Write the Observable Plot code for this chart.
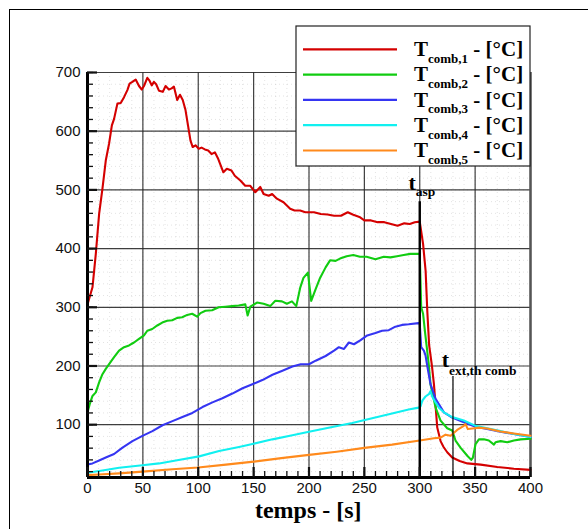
<!DOCTYPE html>
<html><head><meta charset="utf-8">
<script src="https://cdn.jsdelivr.net/npm/d3@7"></script>
<script src="https://cdn.jsdelivr.net/npm/@observablehq/plot@0.6"></script>
<style>
html,body{margin:0;padding:0;background:#fff;overflow:hidden;}
#wrap{position:relative;width:588px;height:529px;overflow:hidden;}
#frame{position:absolute;left:9px;top:9px;width:640px;height:640px;border:1.5px solid #000;box-sizing:border-box;}
#chart{position:absolute;left:0;top:0;}
</style></head><body><div id="wrap"><div id="frame"></div><div id="chart"></div></div>
<script>
// ---- data ----
const seriesSubs = ["comb,1", "comb,2", "comb,3", "comb,4", "comb,5"];
const seriesColors = ["#d40000", "#11cc11", "#3535f2", "#11f0f0", "#ff8a1c"];

const redX = [0,2,4.5,7.5,10.5,13.5,16.5,19.5,22,24,27,30,33,36,38,40.5,43.5,46.5,49,51,54,56,58,60,62,64.5,68,70.5,73.5,76,78,81,83.5,86,88.5,91,93,95,97.5,100.5,103,106,109,112,115,118,122.7,125.8,130,133,138,142.4,147,151.5,156,159,163.6,166.7,171,177,183,187,192,196.7,204.5,210.6,216.7,222.7,228.8,235,239.4,245.5,250,256,262,268,274,280,286,291,295.5,300,303,305.3,306.8,308.5,311,312.8,315.8,318.8,321.5,324.8,329.3,336,343,355,370,385,400];
const redY = [305,318,334,391,459,502,550,579,610,621,647,648,658,670,681,684,688,677,671,677,691,686,678,684,680,669,667,677,671,673,676,653,662,653,636,607,584,573,576,570,572,569,567,561,564,553,530,536,533,524,516,507,507,496,505,493,490,493,485,479,468,465,465,462,462,459,458,456,456,462,458,454,448,448,445,445,442,439,443,442,445,446,408,362,294,235,200,169,95,72,62,53,44,38,34,32,28,25,23];

const greenX = [0,2,4.5,7.5,10.5,13.5,16.5,19.5,24,28.5,33,37.5,42,46.5,51,54,58.5,63,67.5,72,76.5,81,85.5,90,94.5,99,102,106.5,112.5,118.5,124.5,130.5,136.5,142.5,144.6,147,153,159,165,169.6,175.6,180,184.6,188.5,192,195,199,202,206,210,215,219,224,228,234,240,246,252,260,267.5,273.5,279.5,285.5,291.5,299,300,301.3,303,305,308,309.7,314.3,318.8,324.8,329.3,332.3,336.8,342.9,346.5,348,350.4,353.4,357.9,362.4,367,368.4,373,379,385,391,400];
const greenY = [121,135,149,155,172,186,195,203,215,226,232,235,240,246,252,260,263,269,274,277,278,282,283,287,289,284,290,294,295,300,301,302,303,305,286,301,308,306,302,311,310,306,310,302,333,350,359,311,331,350,368,380,379,383,387,389,386,386,382,386,385,387,389,391,391,392,300,289,254,205,169,129,107,94,90,73,61,47,40,44,67,75,75,73,66,70,72,70,73,75,76];

const blueX = [0,4.5,10.5,16.5,24,31.6,40.6,49.6,58.6,67.7,76.7,85.7,94.7,103.8,112.8,121.8,130.8,140,148.9,157.9,167,176,185,192.5,200,206,215,222.6,227,231.6,236,240.6,246.6,252.6,260,266,272,278,284,290,299,300,301.3,303.7,305.2,306.8,309.7,314.3,321.8,329.3,339.8,350.4,360.9,372.9,385,400];
const blueY = [32,34,39,44,50,61,72,81,89,99,106,113,120,130,138,145,153,162,169,176,185,192,199,203,203,209,217,226,232,229,240,237,244,252,256,260,261,267,270,271,273,272,232,226,218,200,169,144,121,112,104,96.5,92.5,88,84,79];

const cyanX = [0,13.5,28.6,49.6,64.7,79.7,100.8,118.8,136.8,148.9,167,185,200,221,239,257,275,290,299,300.7,302.3,305.2,308.2,309.7,311.2,314.3,317.3,321.8,329.3,339.8,350.4,360.9,372.9,385,400];
const cyanY = [18,22,26.5,31,34,39,46,55,62,67,75,82,88,96,103,111,119,126,129,131,141,148,152,157,148,138,129,121,113,107,98,94,89,84,79];

const orangeX = [0,10.5,28.6,49.6,76.7,100,125,150,175,200,225,250,275,300,312.8,318.8,323.3,327.8,333.8,339.8,341.3,343.4,349.6,353.4,360.9,372.9,385,400];
const orangeY = [14,15,17,20,24,27,32,37,43,48.5,54,60.5,66,73,77,78,83,81,91,98,101,92.5,94,95,93.6,88.4,85,81];

const xTicks = [0,50,100,150,200,250,300,350,400];
const yTicks = [100,200,300,400,500,600,700];
const xMinor = d3.range(0, 401, 10);
const yMinor = d3.range(20, 701, 20);

const xLabel = "temps - [s]";
const markers = [{x: 300, top: 480}, {x: 330, top: 182}];
const annoMain = [{x: 300, y: 500, t: "t"}, {x: 330, y: 197.6, t: "t"}];
const annoSub = [{x: 300, y: 489, t: "asp"}, {x: 330, y: 185, t: "ext,th comb"}];

const allX = [redX, greenX, blueX, cyanX, orangeX];
const allY = [redY, greenY, blueY, cyanY, orangeY];
const series = allX.map((xs, i) => xs.map((x, j) => ({x, y: allY[i][j]})));

const serif = "'Liberation Serif', 'Times New Roman', serif";

const plot = Plot.plot({
  width: 588, height: 529,
  marginLeft: 87, marginRight: 58, marginTop: 72, marginBottom: 52,
  x: {domain: [0, 400]},
  y: {domain: [10, 700]},
  style: {fontFamily: "'Liberation Sans', Arial, sans-serif", fontSize: "15px", color: "#111", background: "transparent", overflow: "visible"},
  marks: [
    Plot.gridX(xMinor, {stroke: "#999", strokeOpacity: 0.35, strokeDasharray: "1,3", strokeWidth: 0.8}),
    Plot.gridY(yMinor, {stroke: "#999", strokeOpacity: 0.35, strokeDasharray: "1,3", strokeWidth: 0.8}),
    Plot.gridX(xTicks, {stroke: "#2a2a2a", strokeOpacity: 0.9, strokeWidth: 1.2}),
    Plot.gridY(yTicks, {stroke: "#2a2a2a", strokeOpacity: 0.9, strokeWidth: 1.2}),
    Plot.ruleX([400], {stroke: "#555", strokeWidth: 2.5}),
    ...series.map((d, i) => Plot.line(d, {x: "x", y: "y", stroke: seriesColors[i], strokeWidth: 2.1, curve: "linear"})),
    Plot.ruleX(markers.slice(0, 1), {x: "x", y1: "top", y2: 10, stroke: "#000", strokeWidth: 2.4}),
    Plot.ruleX(markers.slice(1), {x: "x", y1: "top", y2: 10, stroke: "#000", strokeWidth: 1.2}),
    Plot.text(annoMain, {x: "x", y: "y", text: "t", dx: -4, lineAnchor: "bottom", textAnchor: "end",
      fontSize: 22, fontWeight: "bold", fontFamily: serif, fill: "#000"}),
    Plot.text(annoSub, {x: "x", y: "y", text: "t", dx: -4, lineAnchor: "bottom", textAnchor: "start",
      fontSize: 13.5, fontWeight: "bold", fontFamily: serif, fill: "#000"}),
    Plot.ruleX([0], {stroke: "#000", strokeWidth: 3}),
    Plot.ruleY([10], {stroke: "#000", strokeWidth: 3}),
    Plot.axisX({ticks: xMinor, tickSize: 6, dy: -6, tickFormat: () => "", label: null, strokeWidth: 1.3}),
    Plot.axisX({ticks: xTicks, tickSize: 10, dy: -10, tickFormat: () => "", label: null, strokeWidth: 2.2}),
    Plot.axisX({ticks: xTicks, tickSize: 0, tickPadding: 5, label: null, fontSize: 15}),
    Plot.axisY({ticks: yMinor, tickSize: 6, dx: 6, tickFormat: () => "", label: null, strokeWidth: 1.3}),
    Plot.axisY({ticks: yTicks, tickSize: 10, dx: 10, tickFormat: () => "", label: null, strokeWidth: 2.2}),
    Plot.axisY({ticks: yTicks, tickSize: 0, tickPadding: 7, label: null, fontSize: 15})
  ]
});
document.getElementById("chart").appendChild(plot);

const svg = d3.select(plot);
// axis title
svg.append("text").attr("x", 308.3).attr("y", 518).attr("text-anchor", "middle")
  .attr("font-family", serif).attr("font-weight", "bold").attr("font-size", 24).attr("fill", "#000")
  .text(xLabel);

// legend
const lg = svg.append("g");
lg.append("rect").attr("x", 296).attr("y", 26).attr("width", 234).attr("height", 140)
  .attr("fill", "#fff").attr("stroke", "#222").attr("stroke-width", 1.2);
seriesSubs.forEach((s, i) => {
  const cy = 49.3 + 25.3 * i;
  lg.append("line").attr("x1", 303).attr("x2", 397).attr("y1", cy).attr("y2", cy)
    .attr("stroke", seriesColors[i]).attr("stroke-width", 2.2);
  const t = lg.append("text").attr("x", 414).attr("y", cy + 6.7).attr("text-anchor", "start")
    .attr("font-family", serif).attr("font-weight", "bold").attr("fill", "#000");
  t.append("tspan").attr("font-size", 21).text("T");
  t.append("tspan").attr("font-size", 13).attr("dy", 6.7).text(s);
  t.append("tspan").attr("font-size", 21).attr("dy", -6.7).text(" - [°C]");
});
</script>
</body></html>
